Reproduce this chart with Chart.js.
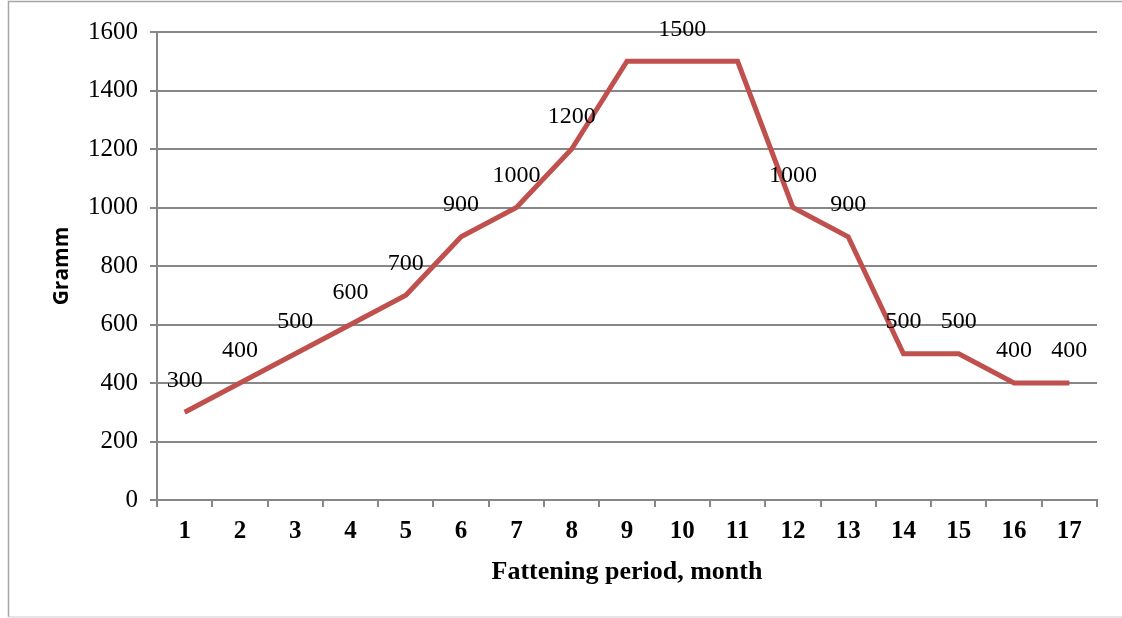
<!DOCTYPE html>
<html>
<head>
<meta charset="utf-8">
<script src="https://cdn.jsdelivr.net/npm/chart.js@4.4.0/dist/chart.umd.min.js"></script>
<style>
    html, body { margin: 0; padding: 0; background: #fff; }
    #wrap { width: 1122px; height: 618px; position: relative; }
</style>
</head>
<body>
<div id="wrap"><canvas id="gainChart" width="1122" height="618"></canvas></div>
<script>
// months of fattening and gram values
const months = ['1', '2', '3', '4', '5', '6', '7', '8', '9', '10', '11', '12', '13', '14', '15', '16', '17'];
const gramm = [300, 400, 500, 600, 700, 900, 1000, 1200, 1500, 1500, 1500, 1000, 900, 500, 500, 400, 400];
// labels hidden on these points (the 1500 plateau shows only one label)
const hiddenLabels = [8, 10];
const yTicks = [0, 200, 400, 600, 800, 1000, 1200, 1400, 1600];

const gridColor = '#878787';
const serif = '"Liberation Serif", "Times New Roman", serif';

// draws the value labels above the points
const pointLabels = {
    id: 'pointLabels',
    afterDatasetsDraw(chart) {
        const ctx = chart.ctx;
        const meta = chart.getDatasetMeta(0);
        ctx.save();
        ctx.font = '24px ' + serif;
        ctx.fillStyle = '#000';
        ctx.textAlign = 'center';
        ctx.textBaseline = 'middle';
        meta.data.forEach(function(pt, i) {
            if (hiddenLabels.includes(i)) return;
            ctx.fillText(String(gramm[i]), pt.x, pt.y - 32);
        });
        ctx.restore();
    }
};

// grey frame round the whole picture
const outerFrame = {
    id: 'outerFrame',
    beforeDraw(chart) {
        const ctx = chart.ctx;
        ctx.save();
        ctx.fillStyle = '#fff';
        ctx.fillRect(0, 0, chart.width, chart.height);
        ctx.strokeStyle = '#a6a6a6';
        ctx.lineWidth = 1.5;
        ctx.beginPath();
        ctx.moveTo(chart.width + 2, 1.5);
        ctx.lineTo(8.5, 1.5);
        ctx.lineTo(8.5, 617);
        ctx.stroke();
        ctx.strokeStyle = '#dcdcdc';
        ctx.beginPath();
        ctx.moveTo(8.5, 617);
        ctx.lineTo(chart.width, 617);
        ctx.stroke();
        ctx.restore();
    }
};

const data = {
    labels: months,
    datasets: [{
        label: 'Gramm',
        data: gramm,
        borderColor: '#c0504d',
        backgroundColor: '#c0504d',
        borderWidth: 5,
        pointRadius: 0,
        tension: 0,
        fill: false
    }]
};

const config = {
    type: 'line',
    data: data,
    plugins: [outerFrame, pointLabels],
    options: {
        responsive: false,
        animation: false,
        layout: { padding: { top: 32, right: 25, bottom: 0, left: 0 } },
        plugins: {
            legend: { display: false },
            tooltip: { enabled: false }
        },
        scales: {
            x: {
                offset: true,
                afterFit: function(scale) { scale.height = 118; },
                grid: {
                    offset: true,
                    drawOnChartArea: false,
                    drawTicks: true,
                    tickLength: 7,
                    color: gridColor,
                    lineWidth: 2
                },
                border: { display: true, color: gridColor, width: 2 },
                ticks: {
                    color: '#000',
                    padding: 10,
                    maxRotation: 0,
                    font: { family: serif, size: 25, weight: 'bold' }
                },
                title: {
                    display: true,
                    text: 'Fattening period, month',
                    color: '#000',
                    padding: { top: 0, bottom: 30 },
                    font: { family: serif, size: 26, weight: 'bold' }
                }
            },
            y: {
                min: 0,
                max: 1600,
                afterFit: function(scale) { scale.width = 157; },
                afterBuildTicks: function(scale) {
                    scale.ticks = yTicks.map(function(v) { return { value: v }; });
                },
                grid: {
                    color: gridColor,
                    lineWidth: 2,
                    tickLength: 7
                },
                border: { display: true, color: gridColor, width: 2 },
                ticks: {
                    color: '#000',
                    padding: 12,
                    font: { family: serif, size: 25 },
                    callback: function(value) { return String(value); }
                },
                title: {
                    display: true,
                    text: 'Gramm',
                    color: '#000',
                    padding: { top: 49, bottom: 0 },
                    font: { family: '"Open Sans", "Noto Sans", sans-serif', size: 21, weight: 'bold' }
                }
            }
        }
    }
};

const myGainChart = new Chart(
    document.getElementById('gainChart'),
    config
);
</script>
</body>
</html>
